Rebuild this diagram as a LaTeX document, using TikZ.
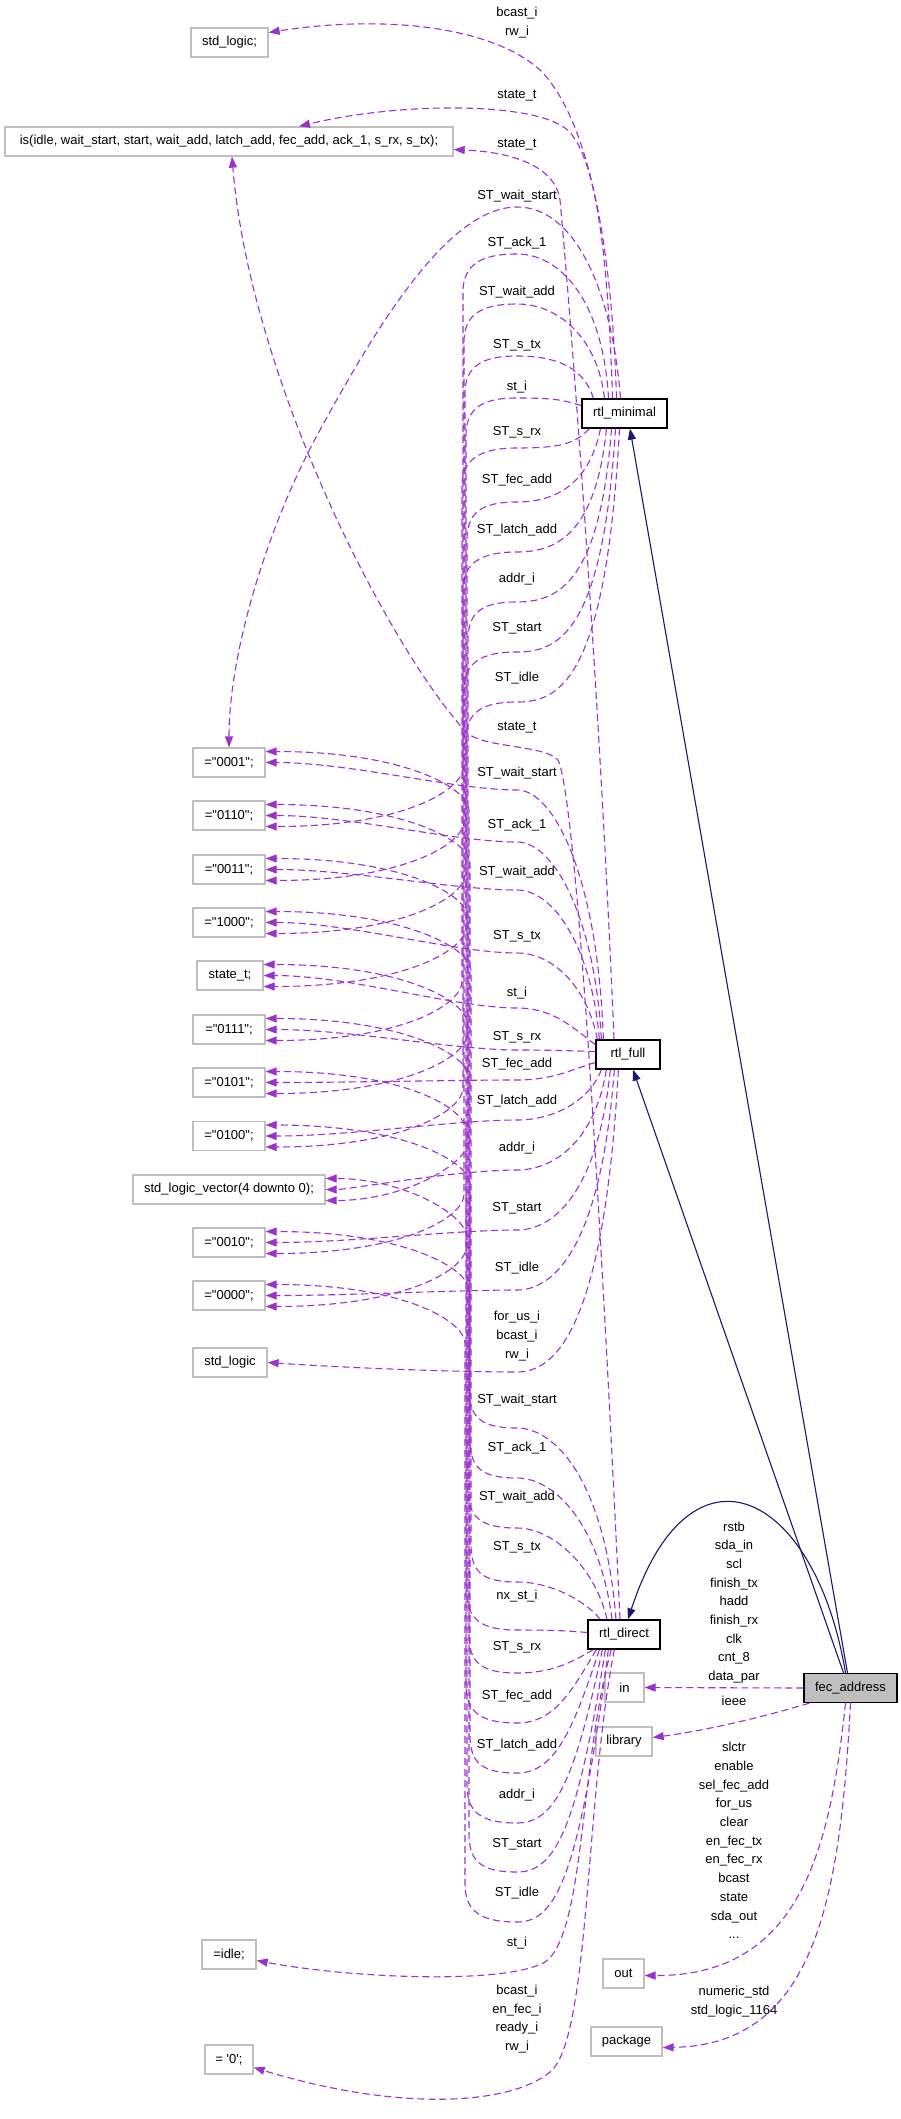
\documentclass[tikz,border=0pt]{standalone}
\usepackage{fontspec}
\newfontfamily\lblfont{Liberation Sans}
\usetikzlibrary{arrows.meta,calc}
\definecolor{usec}{HTML}{9A32CD}
\definecolor{navyc}{HTML}{191970}
\definecolor{boxg}{HTML}{BFBFBF}
\newcommand\lbl{\lblfont\fontsize{13}{18.7}\selectfont}
% M: from rtl_minimal, arc at label, down the trunk to target
\newcommand\Medge[6]{\draw[usedge] (#1) .. controls #2 and (560,#3) .. (517,#3) .. controls (482,#3) and (#4,#3+10) .. (#4,#3+38) -- (#4,#6-48) .. controls (#4,#6-26) and (405,#6+11) .. ($(#5.east)+(0,11)$);}
% D: from rtl_direct, arc at label, up the trunk to target
\newcommand\Dedge[6]{\draw[usedge] (#1) .. controls #2 and (555,#3) .. (517,#3) .. controls (482,#3) and (#4,#3-10) .. (#4,#3-38) -- (#4,#6+48) .. controls (#4,#6+26) and (405,#6-11) .. ($(#5.east)+(0,-11)$);}
% F: from rtl_full, under label, across to target
\newcommand\Fedge[5]{\draw[usedge] (#1) .. controls #2 and (555,#3) .. (517,#3) .. controls (455,#3) and (350,#5) .. (#4.east);}
\begin{document}
\begin{tikzpicture}[x=1pt,y=-1pt,
  valbox/.style={draw=boxg,line width=1.3pt,minimum height=29pt,inner sep=0pt,font=\lbl},
  clsbox/.style={draw=black,line width=1.3pt,minimum height=29pt,inner sep=0pt,font=\lbl},
  usedge/.style={draw=usec,line width=1.1pt,dash pattern=on 7pt off 4pt,-{Triangle[length=11pt,width=8pt]}},
  inhedge/.style={draw=navyc,line width=1.1pt,-{Triangle[length=11pt,width=8pt]}},
  edgelab/.style={font=\lbl,align=center,inner sep=0pt}]
\fill[white] (0,0) rectangle (901,2119);
\useasboundingbox (0,0) rectangle (901,2119);

% ---------- nodes ----------
\node[valbox,minimum width=77pt] (sl1) at (229.5,42.5) {std\_logic;};
\node[valbox,minimum width=448pt] (isn) at (229,141.5) {is(idle, wait\_start, start, wait\_add, latch\_add, fec\_add, ack\_1, s\_rx, s\_tx);};
\node[clsbox,minimum width=85pt] (rm) at (624.5,413.5) {rtl\_minimal};
\node[valbox,minimum width=72pt] (v0001) at (229,762.5) {="0001";};
\node[valbox,minimum width=72pt] (v0110) at (229,815.5) {="0110";};
\node[valbox,minimum width=72pt] (v0011) at (229,869.5) {="0011";};
\node[valbox,minimum width=72pt] (v1000) at (229,922.5) {="1000";};
\node[valbox,minimum width=66pt] (st) at (230,975.5) {state\_t;};
\node[valbox,minimum width=72pt] (v0111) at (229,1029.5) {="0111";};
\node[valbox,minimum width=72pt] (v0101) at (229,1082.5) {="0101";};
\node[valbox,minimum width=72pt] (v0100) at (229,1136) {="0100";};
\node[valbox,minimum width=192pt] (slv) at (229,1189.5) {std\_logic\_vector(4 downto 0);};
\node[valbox,minimum width=72pt] (v0010) at (229,1242.5) {="0010";};
\node[valbox,minimum width=72pt] (v0000) at (229,1295.5) {="0000";};
\node[valbox,minimum width=74pt] (sl2) at (230,1362.5) {std\_logic};
\node[clsbox,minimum width=64pt] (rf) at (628,1054.5) {rtl\_full};
\node[clsbox,minimum width=72pt] (rd) at (624,1634.5) {rtl\_direct};
\node[clsbox,minimum width=93pt,fill=boxg] (fec) at (850.5,1688) {fec\_address};
\node[valbox,minimum width=39pt] (inn) at (624.5,1687.5) {in};
\node[valbox,minimum width=56pt] (lib) at (624,1741.5) {library};
\node[valbox,minimum width=54pt] (idle) at (229,1954.5) {=idle;};
\node[valbox,minimum width=48pt] (zero) at (229,2059.5) {= '0';};
\node[valbox,minimum width=41pt] (outn) at (623.5,1973.5) {out};
\node[valbox,minimum width=71pt] (pkg) at (626.5,2041.5) {package};

% ---------- labels ----------
\node[edgelab] at (517,22.5) {bcast\_i\\rw\_i};
\node[edgelab] at (517,96) {state\_t};
\node[edgelab] at (517,145) {state\_t};
\node[edgelab] at (517,196) {ST\_wait\_start};
\node[edgelab] at (517,243) {ST\_ack\_1};
\node[edgelab] at (517,292) {ST\_wait\_add};
\node[edgelab] at (517,345) {ST\_s\_tx};
\node[edgelab] at (517,387) {st\_i};
\node[edgelab] at (517,432) {ST\_s\_rx};
\node[edgelab] at (517,480) {ST\_fec\_add};
\node[edgelab] at (517,530) {ST\_latch\_add};
\node[edgelab] at (517,579) {addr\_i};
\node[edgelab] at (517,628) {ST\_start};
\node[edgelab] at (517,678) {ST\_idle};
\node[edgelab] at (517,728) {state\_t};
\node[edgelab] at (517,773) {ST\_wait\_start};
\node[edgelab] at (517,825) {ST\_ack\_1};
\node[edgelab] at (517,872) {ST\_wait\_add};
\node[edgelab] at (517,936) {ST\_s\_tx};
\node[edgelab] at (517,993) {st\_i};
\node[edgelab] at (517,1037) {ST\_s\_rx};
\node[edgelab] at (517,1064) {ST\_fec\_add};
\node[edgelab] at (517,1101) {ST\_latch\_add};
\node[edgelab] at (517,1148) {addr\_i};
\node[edgelab] at (517,1208) {ST\_start};
\node[edgelab] at (517,1268) {ST\_idle};
\node[edgelab] at (517,1336) {for\_us\_i\\bcast\_i\\rw\_i};
\node[edgelab] at (517,1400) {ST\_wait\_start};
\node[edgelab] at (517,1448) {ST\_ack\_1};
\node[edgelab] at (517,1497) {ST\_wait\_add};
\node[edgelab] at (517,1547) {ST\_s\_tx};
\node[edgelab] at (517,1596) {nx\_st\_i};
\node[edgelab] at (517,1647) {ST\_s\_rx};
\node[edgelab] at (517,1696) {ST\_fec\_add};
\node[edgelab] at (517,1745) {ST\_latch\_add};
\node[edgelab] at (517,1795) {addr\_i};
\node[edgelab] at (517,1844) {ST\_start};
\node[edgelab] at (517,1893) {ST\_idle};
\node[edgelab] at (517,1943) {st\_i};
\node[edgelab] at (517,2019) {bcast\_i\\en\_fec\_i\\ready\_i\\rw\_i};
\node[edgelab] at (734,1602.5) {rstb\\sda\_in\\scl\\finish\_tx\\hadd\\finish\_rx\\clk\\cnt\_8\\data\_par};
\node[edgelab] at (734,1701) {ieee};
\node[edgelab] at (734,1840.5) {slctr\\enable\\sel\_fec\_add\\for\_us\\clear\\en\_fec\_tx\\en\_fec\_rx\\bcast\\state\\sda\_out\\...};
\node[edgelab] at (734,2001.5) {numeric\_std\\std\_logic\_1164};

% ---------- rtl_minimal edges ----------
\draw[usedge] ($(rm.north)+(-8,0)$) .. controls (612,250) and (590,120) .. (540,70) .. controls (490,25) and (380,15) .. ($(sl1.east)+(0,-10)$);
\draw[usedge] ($(rm.north)+(-12,0)$) .. controls (608,250) and (595,150) .. (565,128) .. controls (530,102) and (400,102) .. ($(isn.north)+(70,0)$);
\draw[usedge] ($(rm.north)+(-4,0)$) .. controls (612,290) and (575,207) .. (517,207) .. controls (450,207) and (380,320) .. (320,430) .. controls (270,520) and (229,650) .. (v0001.north);
\Medge{$(rm.north)+(-16,0)$}{(603,300)}{254}{463}{v0110}{815.5}
\Medge{$(rm.north)+(-20,0)$}{(598,340)}{304}{464}{v0011}{869.5}
\Medge{$(rm.north west)+(12,0)$}{(585,370)}{356}{465}{v1000}{922.5}
\Medge{$(rm.west)+(0,-8)$}{(565,401)}{398}{466}{st}{975.5}
\Medge{$(rm.south west)+(8,0)$}{(575,444)}{448}{462}{v0111}{1029.5}
\Medge{$(rm.south)+(-24,0)$}{(590,480)}{502}{467}{v0101}{1082.5}
\Medge{$(rm.south)+(-18,0)$}{(596,530)}{552}{463}{v0100}{1136}
\Medge{$(rm.south)+(-13,0)$}{(600,580)}{602}{468}{slv}{1189.5}
\Medge{$(rm.south)+(-9,0)$}{(603,630)}{652}{464}{v0010}{1242.5}
\Medge{$(rm.south)+(-5,0)$}{(606,680)}{702}{466}{v0000}{1295.5}

% ---------- rtl_full edges ----------
\draw[usedge] ($(rf.north)+(-14,0)$) .. controls (600,700) and (572,330) .. (560,200) .. controls (555,165) and (510,152) .. ($(isn.east)+(0,8)$);
\Fedge{$(rf.north west)+(8,0)$}{(598,880)}{790}{v0001}{762.5}
\Fedge{$(rf.north west)+(6,0)$}{(595,920)}{842}{v0110}{815.5}
\Fedge{$(rf.north west)+(4,0)$}{(592,950)}{890}{v0011}{869.5}
\Fedge{$(rf.north west)+(2,0)$}{(588,990)}{953}{v1000}{922.5}
\Fedge{$(rf.west)+(0,-10)$}{(575,1030)}{1008}{st}{975.5}
\Fedge{$(rf.west)+(0,-3)$}{(575,1051)}{1050}{v0111}{1029.5}
\Fedge{$(rf.west)+(0,8)$}{(575,1068)}{1080}{v0101}{1082.5}
\Fedge{$(rf.south west)+(6,0)$}{(590,1100)}{1120}{v0100}{1136}
\Fedge{$(rf.south west)+(11,0)$}{(595,1140)}{1170}{slv}{1189.5}
\Fedge{$(rf.south west)+(15,0)$}{(598,1190)}{1230}{v0010}{1242.5}
\Fedge{$(rf.south west)+(19,0)$}{(601,1245)}{1290}{v0000}{1295.5}
\Fedge{$(rf.south west)+(23,0)$}{(604,1330)}{1372}{sl2}{1368}

% ---------- rtl_direct edges ----------
\draw[usedge] ($(rd.north)+(-4,0)$) .. controls (605,1300) and (578,800) .. (558,760) .. controls (545,745) and (485,748) .. (467,733) .. controls (390,650) and (250,380) .. ($(isn.south)+(3,0)$);
\Dedge{$(rd.north)+(-8,0)$}{(605,1480)}{1428}{469}{v0001}{762.5}
\Dedge{$(rd.north)+(-12,0)$}{(600,1525)}{1478}{470}{v0110}{815.5}
\Dedge{$(rd.north)+(-17,0)$}{(596,1570)}{1528}{468}{v0011}{869.5}
\Dedge{$(rd.north)+(-24,0)$}{(590,1605)}{1582}{471}{v1000}{922.5}
\Dedge{$(rd.west)+(0,-2)$}{(570,1631)}{1630}{467}{st}{975.5}
\Dedge{$(rd.south west)+(6,0)$}{(575,1660)}{1673}{469}{v0111}{1029.5}
\Dedge{$(rd.south west)+(9,0)$}{(572,1690)}{1723}{466}{v0101}{1082.5}
\Dedge{$(rd.south west)+(12,0)$}{(573,1730)}{1773}{470}{v0100}{1136}
\Dedge{$(rd.south west)+(15,0)$}{(575,1780)}{1823}{467}{slv}{1189.5}
\Dedge{$(rd.south west)+(18,0)$}{(577,1830)}{1872}{469}{v0010}{1242.5}
\Dedge{$(rd.south west)+(21,0)$}{(579,1880)}{1922}{465}{v0000}{1295.5}
\draw[usedge] ($(rd.south west)+(24,0)$) .. controls (580,1760) and (585,1935) .. (545,1962) .. controls (505,1985) and (350,1978) .. ($(idle.east)+(0,6)$);
\draw[usedge] ($(rd.south west)+(27,0)$) .. controls (585,1800) and (590,2040) .. (550,2072) .. controls (510,2105) and (400,2112) .. ($(zero.east)+(0,8)$);

% ---------- fec_address edges ----------
\draw[usedge] (fec.west) -- (inn.east);
\draw[usedge] ($(fec.south west)+(6,0)$) .. controls (770,1715) and (710,1730) .. ($(lib.east)+(0,-4)$);
\draw[usedge] ($(fec.south)+(-5,0)$) .. controls (830,1850) and (800,1976) .. ($(outn.east)+(0,2)$);
\draw[usedge] (fec.south) .. controls (840,1900) and (815,2045) .. ($(pkg.east)+(0,6)$);
\draw[inhedge] ($(fec.north)+(-3,0)$) -- ($(rm.south)+(5.5,0)$);
\draw[inhedge] ($(fec.north)+(-7,0)$) -- ($(rf.south)+(5,0)$);
\draw[inhedge] ($(fec.north)+(-5,0)$) .. controls (815,1490) and (690,1430) .. ($(rd.north)+(4,0)$);
\end{tikzpicture}
\end{document}
